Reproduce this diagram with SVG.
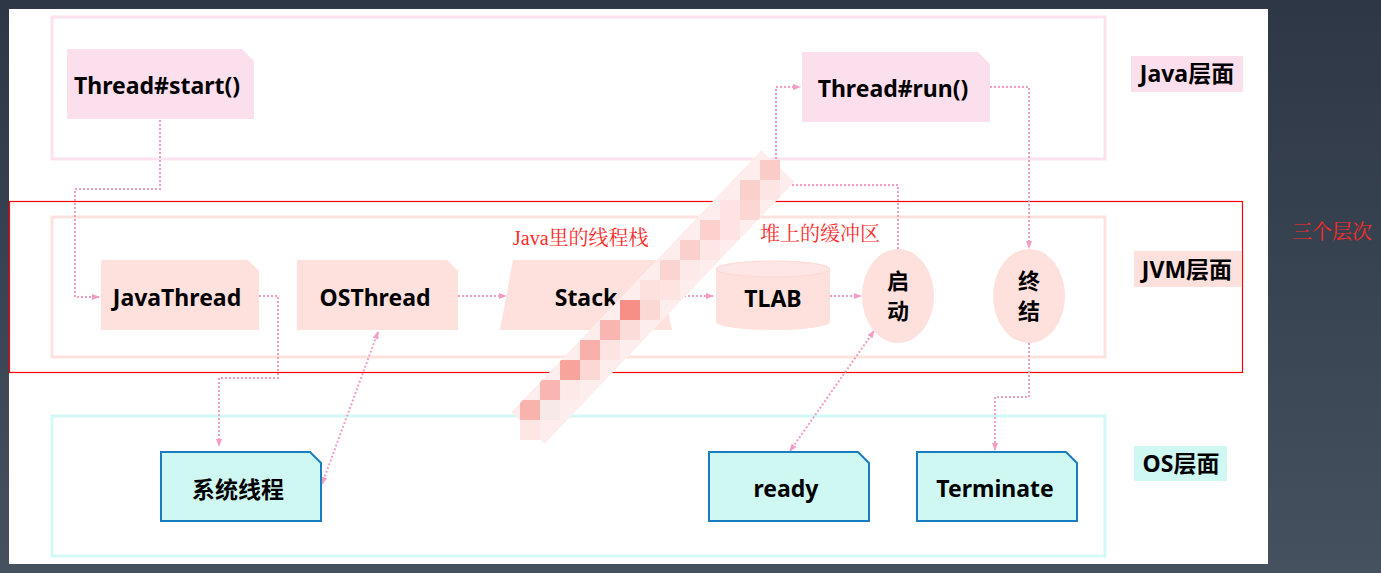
<svg xmlns="http://www.w3.org/2000/svg" width="1381" height="573" viewBox="0 0 1381 573">
<defs>
<linearGradient id="bg" x1="0" y1="0" x2="0" y2="1">
<stop offset="0" stop-color="#2d3745"/>
<stop offset="1" stop-color="#45515e"/>
</linearGradient>
<marker id="a" viewBox="0 0 8 8" refX="7" refY="4" markerWidth="8" markerHeight="8" orient="auto-start-reverse" markerUnits="userSpaceOnUse">
<path d="M0,1 L8,4 L0,7 z" fill="#f29cc6"/>
</marker>
<mask id="band">
<path d="M778,166 L528,428" stroke="#fff" stroke-width="46" stroke-linecap="round" fill="none"/>
</mask>
</defs>
<style>
.conn{fill:none;stroke:#f29cc6;stroke-width:2;stroke-dasharray:2 2}
.t{font-family:"Noto Sans","Open Sans","Noto Sans CJK SC",sans-serif;font-weight:bold;font-size:23px;fill:#000;text-anchor:middle}
.c{font-size:22px}
.red{font-family:"Liberation Serif","Noto Serif CJK SC","Noto Sans CJK SC",serif;font-size:20px;fill:#ff2a2a}
.java{fill:#fbdfec}
.jvm{fill:#fee0dd}
.os{fill:#cff8f3;stroke:#1a7dbf;stroke-width:2}
</style>
<rect x="0" y="0" width="1381" height="573" fill="url(#bg)"/>
<rect x="9" y="9" width="1259" height="555" fill="#fff"/>

<g id="layers">
<rect x="52" y="17" width="1053" height="142" fill="none" stroke="#fce2ee" stroke-width="3"/>
<rect x="52" y="217" width="1053" height="140" fill="none" stroke="#fde3e0" stroke-width="3"/>
<rect x="52" y="416" width="1053" height="140" fill="none" stroke="#d2f9f5" stroke-width="3"/>
<rect x="9.5" y="201.5" width="1233" height="171" fill="none" stroke="#f00" stroke-width="1.2"/>
</g>

<g id="label-java"><rect x="1131" y="56" width="112" height="36" class="java"/><text x="1187" y="82" class="t">Java层面</text></g>
<g id="label-jvm"><rect x="1134" y="251" width="108" height="36" class="jvm"/><text x="1187" y="278" class="t">JVM层面</text></g>
<g id="label-os"><rect x="1134" y="446" width="93" height="35" fill="#cff8f3"/><text x="1181" y="472" class="t">OS层面</text></g>
<text id="label-three" x="1292" y="239" class="red">三个层次</text>

<g id="connectors">
<path class="conn" d="M160,120 V189 H75 V297 H99" marker-end="url(#a)"/>
<path class="conn" d="M259,296 H278 V378 H219 V446" marker-end="url(#a)"/>
<path class="conn" d="M322,484 L378,332" marker-start="url(#a)" marker-end="url(#a)"/>
<path class="conn" d="M458,296 H506" marker-end="url(#a)"/>
<path class="conn" d="M672,296 H713" marker-end="url(#a)"/>
<path class="conn" d="M830,296 H861" marker-end="url(#a)"/>
<path class="conn" d="M790,451 L874,331" marker-start="url(#a)" marker-end="url(#a)"/>
<path class="conn" d="M898,249 V185 H776 V87 H800" marker-end="url(#a)"/>
<path class="conn" d="M990,87 H1029 V248" marker-end="url(#a)"/>
<path class="conn" d="M1029,343 V397 H995 V450" marker-end="url(#a)"/>
</g>

<g id="thread-start"><path class="java" d="M67,49 H242 L254,61 V119 H67 Z"/><text x="157" y="94" class="t">Thread#start()</text></g>
<g id="thread-run"><path class="java" d="M802,52 H978 L990,64 V122 H802 Z"/><text x="893" y="97" class="t">Thread#run()</text></g>

<g id="javathread"><path class="jvm" d="M101,260 H248 L259,271 V330 H101 Z"/><text x="177" y="306" class="t">JavaThread</text></g>
<g id="osthread"><path class="jvm" d="M297,260 H447 L458,271 V330 H297 Z"/><text x="375" y="306" class="t">OSThread</text></g>
<g id="stack"><path class="jvm" d="M513,260 H657 L672,330 H500 Z"/><text x="586" y="306" class="t">Stack</text></g>
<g id="tlab"><path class="jvm" d="M716,269 V322 A57,8 0 0 0 830,322 V269 Z"/><ellipse cx="773" cy="269" rx="57" ry="8" fill="#fde6e3" stroke="#fdd9d5" stroke-width="1"/><text x="773" y="307" class="t">TLAB</text></g>
<g id="qidong"><ellipse cx="898" cy="296" rx="36" ry="47" class="jvm"/><text x="898" y="289" class="t c">启</text><text x="898" y="319" class="t c">动</text></g>
<g id="zhongjie"><ellipse cx="1029" cy="296" rx="36" ry="47" class="jvm"/><text x="1029" y="289" class="t c">终</text><text x="1029" y="319" class="t c">结</text></g>

<text x="513" y="245" class="red">Java里的线程栈</text>
<text x="760" y="241" class="red">堆上的缓冲区</text>

<g id="xitong"><path class="os" d="M161,452 H310 L321,463 V521 H161 Z"/><text x="238" y="498" class="t">系统线程</text></g>
<g id="ready"><path class="os" d="M709,452 H858 L869,463 V521 H709 Z"/><text x="786" y="497" class="t">ready</text></g>
<g id="terminate"><path class="os" d="M917,452 H1066 L1077,463 V521 H917 Z"/><text x="995" y="497" class="t">Terminate</text></g>

<g id="mosaic" mask="url(#band)">
<path d="M778,166 L528,428" stroke="#fdeeed" stroke-width="46" fill="none"/>
<rect x="760" y="160" width="20" height="20" fill="#fbcbc8"/>
<rect x="740" y="180" width="20" height="20" fill="#fbcfcc"/>
<rect x="760" y="180" width="20" height="20" fill="#fde5e3"/>
<rect x="720" y="200" width="20" height="20" fill="#fde4e2"/>
<rect x="740" y="200" width="20" height="20" fill="#fbd6d3"/>
<rect x="700" y="220" width="20" height="20" fill="#fbd0cd"/>
<rect x="720" y="220" width="20" height="20" fill="#fde4e2"/>
<rect x="680" y="240" width="20" height="20" fill="#fbd0cc"/>
<rect x="700" y="240" width="20" height="20" fill="#fde6e4"/>
<rect x="660" y="260" width="20" height="20" fill="#fbd3d0"/>
<rect x="680" y="260" width="20" height="20" fill="#fdeae8"/>
<rect x="640" y="280" width="20" height="20" fill="#fde1df"/>
<rect x="660" y="280" width="20" height="20" fill="#fde4e2"/>
<rect x="620" y="300" width="20" height="20" fill="#f78f87"/>
<rect x="640" y="300" width="20" height="20" fill="#fcd8d5"/>
<rect x="600" y="320" width="20" height="20" fill="#f9b5b0"/>
<rect x="620" y="320" width="20" height="20" fill="#fcdcd9"/>
<rect x="580" y="340" width="20" height="20" fill="#f9b0aa"/>
<rect x="600" y="340" width="20" height="20" fill="#fde4e2"/>
<rect x="560" y="360" width="20" height="20" fill="#f8a49d"/>
<rect x="580" y="360" width="20" height="20" fill="#fcd8d5"/>
<rect x="540" y="380" width="20" height="20" fill="#f9b5b0"/>
<rect x="560" y="380" width="20" height="20" fill="#fde9e7"/>
<rect x="520" y="400" width="20" height="20" fill="#f8b3ad"/>
<rect x="540" y="400" width="20" height="20" fill="#f7e9e8"/>
<rect x="520" y="420" width="20" height="20" fill="#fde6e4"/>
</g>
</svg>
